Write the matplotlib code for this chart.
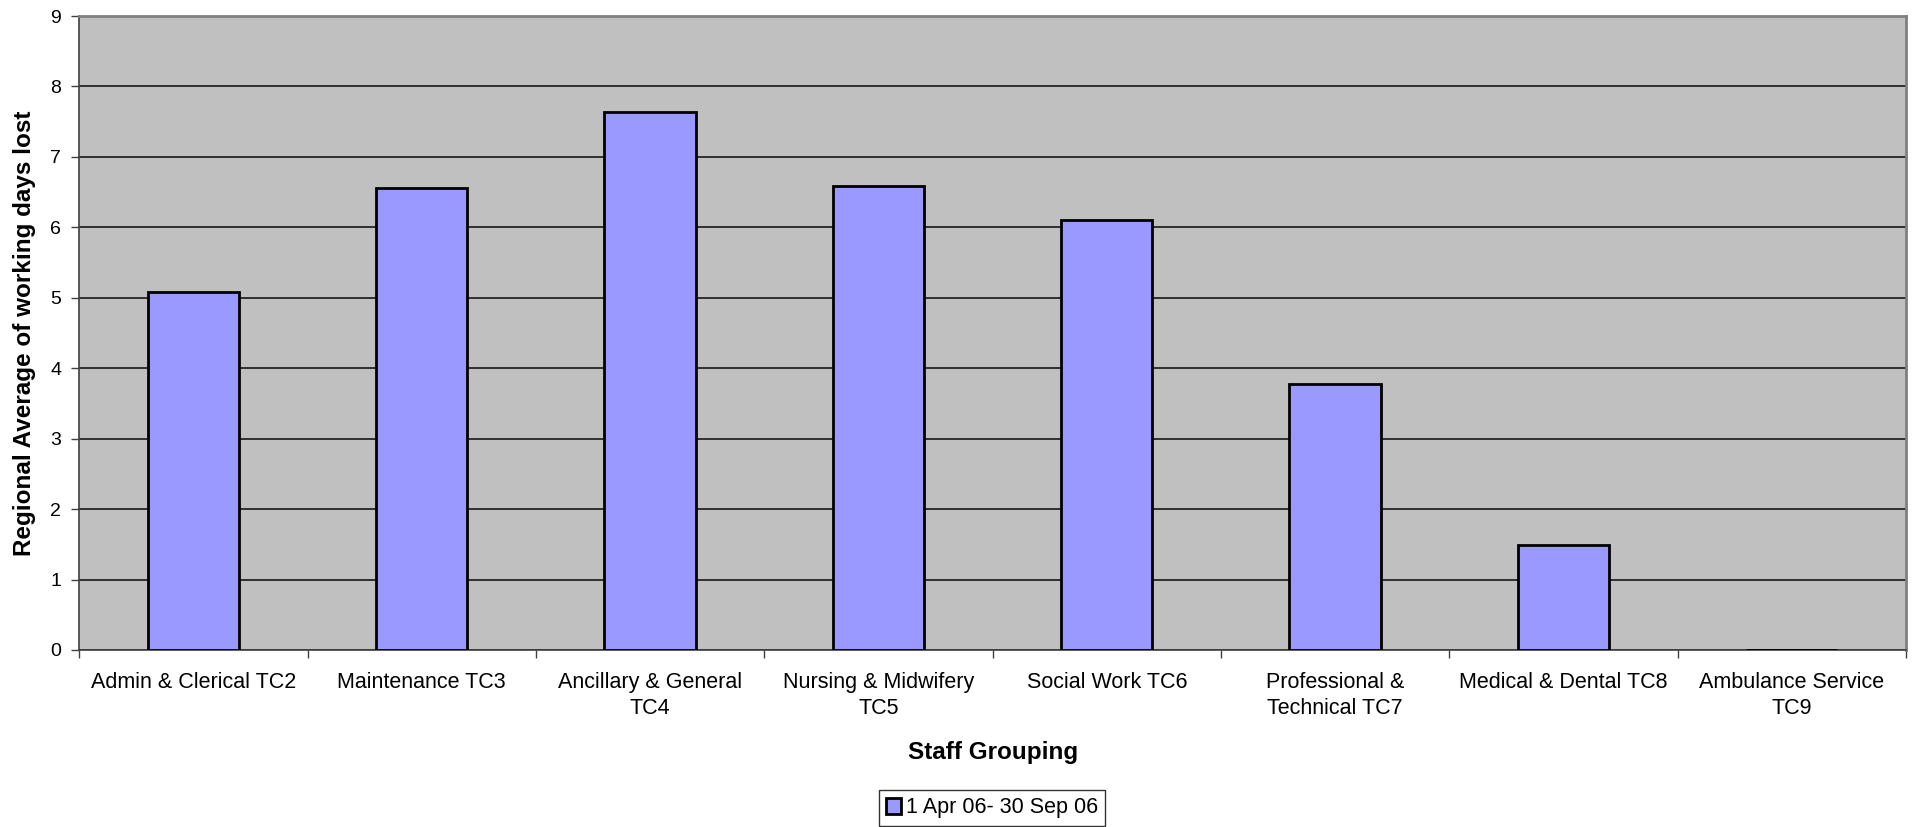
import matplotlib
matplotlib.use("Agg")
import matplotlib.pyplot as plt
import numpy as np

categories = ["Admin & Clerical TC2", "Maintenance TC3", "Ancillary & General\nTC4",
              "Nursing & Midwifery\nTC5", "Social Work TC6", "Professional &\nTechnical TC7",
              "Medical & Dental TC8", "Ambulance Service\nTC9"]
values = [5.08, 6.56, 7.64, 6.58, 6.11, 3.78, 1.49, 0.0]
series_label = "1 Apr 06- 30 Sep 06"
yticks = list(range(0, 10))

plt.rcParams['font.family'] = ['Liberation Sans', 'DejaVu Sans']

W, H = 1915, 827
fig = plt.figure(figsize=(W / 100, H / 100), dpi=100)
ax = fig.add_axes([79.3 / W, 1 - 650 / H, (1906 - 79.3) / W, (650 - 16) / H])
ax.set_facecolor('#C0C0C0')

x = np.arange(len(categories))
bars = ax.bar(x, values, width=0.40, color='#9999FF', edgecolor='black', linewidth=2,
              label=series_label, zorder=3)

ax.set_xlim(-0.5, len(categories) - 0.5)
ax.set_ylim(0, 9)
ax.set_yticks(yticks)
ax.set_yticklabels([str(t) for t in yticks], fontsize=14)
ax.yaxis.grid(True, color='#303030', linewidth=1.4, zorder=1)
ax.set_axisbelow(True)

ax.set_xticks(np.arange(-0.5, len(categories), 1.0))
ax.set_xticklabels([])
ax.set_xticks(x, minor=True)
ax.set_xticklabels(categories, minor=True, fontsize=15.5, linespacing=1.3)
ax.tick_params(axis='x', which='minor', length=0, pad=16)
ax.tick_params(axis='x', which='major', length=6, width=1, color='#404040', direction='out')
ax.tick_params(axis='y', length=6, width=1, color='#404040', direction='out', pad=7)

for side in ['top', 'right']:
    ax.spines[side].set_color('#808080')
    ax.spines[side].set_linewidth(2)
ax.spines['left'].set_color('#404040')
ax.spines['left'].set_linewidth(1.2)
ax.spines['bottom'].set_color('#404040')
ax.spines['bottom'].set_linewidth(1.2)

ax.set_xlabel("Staff Grouping", fontsize=17.5, fontweight='bold', labelpad=16)
ax.set_ylabel("Regional Average of working days lost", fontsize=17.5, fontweight='bold', labelpad=10)

leg = fig.legend(handles=[bars], labels=[series_label], loc='center',
                 bbox_to_anchor=(992 / W, 1 - 808 / H), fontsize=15.5, frameon=True,
                 fancybox=False, edgecolor='black', handlelength=0.7, handleheight=0.7,
                 handletextpad=0.2, borderpad=0.35, borderaxespad=0)
leg.get_frame().set_linewidth(1)

fig.savefig("out.png", dpi=100)
